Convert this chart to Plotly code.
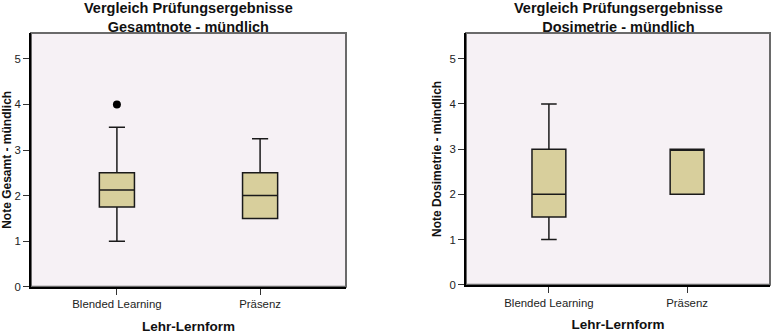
import plotly.graph_objects as go

# Lehr-Lernform groups
categories = ["Blended Learning", "Präsenz"]

# Gesamtnote - mündlich (five-number summaries per group)
ges_lower = [1.0, 1.5]
ges_q1 = [1.75, 1.5]
ges_median = [2.125, 2.0]
ges_q3 = [2.5, 2.5]
ges_upper = [3.5, 3.25]
ges_outlier_x = ["Blended Learning"]
ges_outlier_y = [4.0]

# Dosimetrie - mündlich
dos_lower = [1.0, 2.0]
dos_q1 = [1.5, 2.0]
dos_median = [2.0, 3.0]
dos_q3 = [3.0, 3.0]
dos_upper = [4.0, 3.0]

y_ticks = [0, 1, 2, 3, 4, 5]

FONT = "Liberation Sans, Arial, sans-serif"
BOX_FILL = "#d8cf9c"
PLOT_BG = "#f6f1f5"

fig = go.Figure()

def add_box(lower, q1, med, q3, upper, xa, ya):
    fig.add_trace(go.Box(
        x=categories, q1=q1, median=med, q3=q3,
        lowerfence=lower, upperfence=upper,
        boxpoints=False, width=0.245, whiskerwidth=0.46,
        fillcolor=BOX_FILL, line=dict(color="#1a1a1a", width=1.5),
        xaxis=xa, yaxis=ya, showlegend=False, hoverinfo="skip",
    ))

add_box(ges_lower, ges_q1, ges_median, ges_q3, ges_upper, "x", "y")
fig.add_trace(go.Scatter(
    x=ges_outlier_x, y=ges_outlier_y, mode="markers",
    marker=dict(color="black", size=8), xaxis="x", yaxis="y",
    showlegend=False, hoverinfo="skip",
))
add_box(dos_lower, dos_q1, dos_median, dos_q3, dos_upper, "x2", "y2")

xcommon = dict(
    type="category", range=[-0.6, 1.6], showgrid=False, zeroline=False,
    showline=True, linecolor="black", linewidth=2,
    ticks="outside", ticklen=6, tickcolor="#333", tickwidth=1,
    tickfont=dict(family=FONT, size=11.4, color="#222"),
    title=dict(text="<b>Lehr-Lernform</b>", standoff=12,
               font=dict(family=FONT, size=13.5, color="#111")),
    fixedrange=True,
)
ycommon = dict(
    range=[0, 5.57], tickvals=y_ticks, showgrid=False, zeroline=False,
    showline=True, linecolor="black", linewidth=2,
    ticks="outside", ticklen=6, tickcolor="#333", tickwidth=1,
    tickfont=dict(family=FONT, size=11.4, color="#222"),
    fixedrange=True,
)

fig.update_layout(
    width=771, height=336,
    margin=dict(l=0, r=0, t=0, b=0),
    paper_bgcolor="white", plot_bgcolor=PLOT_BG,
    font=dict(family=FONT, color="#111"),
    xaxis=dict(domain=[31 / 771, 346 / 771], anchor="y", **xcommon),
    yaxis=dict(domain=[1 - 292 / 336, 1 - 33.5 / 336], anchor="x",
               title=dict(text="<b>Note Gesamt - mündlich</b>", standoff=5,
                          font=dict(family=FONT, size=12, color="#111")),
               **ycommon),
    xaxis2=dict(domain=[466 / 771, 770 / 771], anchor="y2", **xcommon),
    yaxis2=dict(domain=[1 - 290 / 336, 1 - 33.5 / 336], anchor="x2",
                title=dict(text="<b>Note Dosimetrie - mündlich</b>", standoff=5,
                           font=dict(family=FONT, size=12, color="#111")),
                **ycommon),
)

# Grey frame around each plot area
for xr, yr in (("x domain", "y domain"), ("x2 domain", "y2 domain")):
    fig.add_shape(type="rect", xref=xr, yref=yr, x0=0, x1=1, y0=0, y1=1,
                  line=dict(color="#6a6a6a", width=2), layer="below")

# Panel titles
titles = [
    ("<b>Vergleich Prüfungsergebnisse<br>Gesamtnote - mündlich</b>", (31 + 346) / 2 / 771),
    ("<b>Vergleich Prüfungsergebnisse<br>Dosimetrie - mündlich</b>", (466 + 770) / 2 / 771),
]
for text, xc in titles:
    fig.add_annotation(text=text, x=xc, y=1.005, xref="paper", yref="paper",
                       xanchor="center", yanchor="top", showarrow=False,
                       font=dict(family=FONT, size=14.5, color="#111"))

fig.write_html("out.html", config={"displayModeBar": False})
